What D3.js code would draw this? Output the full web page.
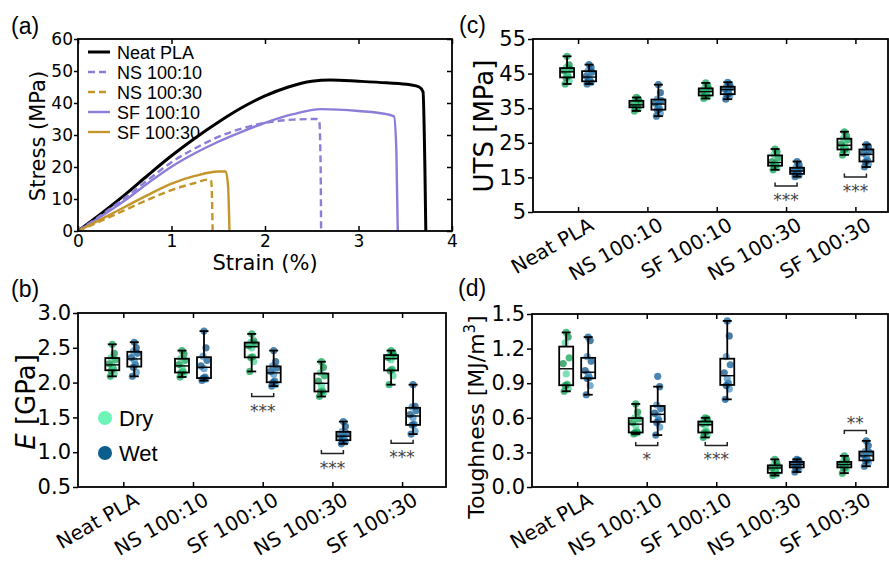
<!DOCTYPE html>
<html>
<head>
<meta charset="utf-8">
<script src="https://cdn.jsdelivr.net/npm/d3@7"></script>
<style>
  body { margin: 0; background: #fff; }
  svg { display: block; }
</style>
</head>
<body>
<script>
// ---------- data ----------
// (a) stress-strain curves
var strainNeat = [0, 0.25, 0.5, 0.75, 1.0, 1.25, 1.5, 1.75, 2.0, 2.25, 2.5, 2.7, 3.0, 3.3, 3.55, 3.65, 3.69, 3.71, 3.72];
var stressNeat = [0, 5.5, 11.3, 17.5, 23.5, 29, 34, 38.5, 42.2, 45, 46.8, 47.2, 46.8, 46.3, 45.7, 45, 43.5, 20, 0];
var strainNS10 = [0, 0.25, 0.5, 0.75, 1.0, 1.25, 1.5, 1.75, 2.0, 2.3, 2.55, 2.58, 2.595, 2.6];
var stressNS10 = [0, 5, 10.3, 16, 21.5, 25.8, 29.4, 32, 33.8, 34.8, 35, 34.5, 20, 0];
var strainNS30 = [0, 0.25, 0.5, 0.75, 1.0, 1.25, 1.4, 1.425, 1.435, 1.44];
var stressNS30 = [0, 3.2, 6.5, 9.8, 12.8, 15, 16.1, 15.5, 8, 0];
var strainSF10 = [0, 0.25, 0.5, 0.75, 1.0, 1.25, 1.5, 1.75, 2.0, 2.3, 2.6, 3.0, 3.3, 3.38, 3.405, 3.42];
var stressSF10 = [0, 4.6, 9.5, 15, 20.1, 24.3, 27.9, 31, 33.8, 36.5, 38.1, 37.5, 36.5, 35.8, 25, 0];
var strainSF30 = [0, 0.25, 0.5, 0.75, 1.0, 1.25, 1.5, 1.58, 1.605, 1.62];
var stressSF30 = [0, 3.7, 7.5, 11.3, 14.8, 17.2, 18.6, 18.6, 14, 0];
var curveNames = ["Neat PLA", "NS 100:10", "NS 100:30", "SF 100:10", "SF 100:30"];

// (b)-(d) box plots
var categories = ["Neat PLA", "NS 100:10", "SF 100:10", "NS 100:30", "SF 100:30"];

var utsDry = [
  [42.0, 42.8, 43.8, 44.2, 45.2, 45.8, 46.3, 46.7, 47.5, 50.0],
  [34.2, 34.8, 35.2, 35.4, 35.8, 36.1, 36.9, 37.2, 37.6, 38.1],
  [37.8, 38.3, 38.6, 38.9, 39.6, 40.0, 40.5, 40.8, 41.5, 42.3],
  [17.2, 17.8, 18.3, 18.6, 19.0, 19.6, 20.6, 21.6, 22.4, 23.2],
  [21.5, 22.3, 23.0, 23.3, 24.0, 24.6, 25.8, 26.3, 27.0, 28.2]
];
var utsWet = [
  [42.0, 42.4, 42.7, 43.0, 43.8, 44.2, 45.4, 45.8, 46.8, 47.6],
  [32.7, 33.5, 34.5, 34.8, 36.0, 36.4, 37.2, 37.6, 39.5, 41.8],
  [37.6, 38.6, 39.0, 39.2, 40.2, 40.6, 40.9, 41.3, 41.9, 42.5],
  [15.2, 15.6, 16.0, 16.1, 16.7, 17.0, 17.4, 17.9, 18.6, 19.6],
  [18.0, 18.8, 19.5, 19.9, 21.3, 22.0, 22.7, 23.2, 23.9, 24.5]
];
var modDry = [
  [2.09, 2.13, 2.17, 2.20, 2.24, 2.27, 2.33, 2.36, 2.42, 2.55],
  [2.08, 2.12, 2.14, 2.16, 2.22, 2.26, 2.32, 2.35, 2.41, 2.46],
  [2.16, 2.30, 2.36, 2.37, 2.50, 2.53, 2.56, 2.58, 2.60, 2.70],
  [1.80, 1.84, 1.87, 1.88, 1.96, 2.02, 2.10, 2.14, 2.22, 2.30],
  [1.97, 2.10, 2.17, 2.19, 2.33, 2.36, 2.38, 2.40, 2.42, 2.46]
];
var modWet = [
  [2.09, 2.15, 2.22, 2.26, 2.32, 2.36, 2.42, 2.45, 2.50, 2.58],
  [2.03, 2.05, 2.06, 2.08, 2.20, 2.24, 2.32, 2.38, 2.50, 2.74],
  [1.95, 1.97, 2.00, 2.02, 2.12, 2.16, 2.21, 2.24, 2.30, 2.46],
  [1.12, 1.15, 1.17, 1.18, 1.22, 1.24, 1.27, 1.30, 1.37, 1.44],
  [1.26, 1.30, 1.39, 1.40, 1.50, 1.54, 1.60, 1.65, 1.66, 1.97]
];
var toughDry = [
  [0.83, 0.85, 0.88, 0.89, 0.98, 1.07, 1.12, 1.25, 1.30, 1.34],
  [0.46, 0.47, 0.47, 0.48, 0.53, 0.56, 0.59, 0.60, 0.65, 0.72],
  [0.43, 0.45, 0.47, 0.48, 0.53, 0.55, 0.56, 0.57, 0.59, 0.60],
  [0.10, 0.11, 0.12, 0.13, 0.16, 0.17, 0.18, 0.19, 0.21, 0.24],
  [0.12, 0.15, 0.17, 0.17, 0.19, 0.20, 0.21, 0.22, 0.24, 0.27]
];
var toughWet = [
  [0.80, 0.88, 0.94, 0.95, 0.98, 1.01, 1.09, 1.13, 1.27, 1.30],
  [0.45, 0.52, 0.56, 0.58, 0.62, 0.64, 0.68, 0.71, 0.87, 0.96],
  [0.76, 0.85, 0.88, 0.90, 0.94, 0.99, 1.06, 1.13, 1.31, 1.44],
  [0.13, 0.15, 0.17, 0.17, 0.19, 0.20, 0.21, 0.22, 0.23, 0.24],
  [0.18, 0.21, 0.23, 0.235, 0.26, 0.28, 0.30, 0.31, 0.36, 0.40]
];

var utsTicks = [5, 15, 25, 35, 45, 55];
var modTicks = [0.5, 1.0, 1.5, 2.0, 2.5, 3.0];
var toughTicks = [0.0, 0.3, 0.6, 0.9, 1.2, 1.5];

// significance marks: category, bracket level, label, side
var sigUts = [{cat: 3, y: 12.5, text: "***", side: "below"}, {cat: 4, y: 15.1, text: "***", side: "below"}];
var sigMod = [{cat: 2, y: 1.80, text: "***", side: "below"}, {cat: 3, y: 0.98, text: "***", side: "below"}, {cat: 4, y: 1.13, text: "***", side: "below"}];
var sigTough = [{cat: 1, y: 0.36, text: "*", side: "below"}, {cat: 2, y: 0.36, text: "***", side: "below"}, {cat: 4, y: 0.49, text: "**", side: "above"}];

// ---------- setup ----------
var W = 889, H = 562;
var svg = d3.select("body").append("svg").attr("width", W).attr("height", H);
var tickFont = "DejaVu Sans";
var purple = "#8c7dd8", gold = "#c4962a";
var dryShades = ["#00a04b", "#46d394", "#008a3e"];
var wetShades = ["#00538f", "#3f8bc0", "#00477d"];

function styleAxis(g, size) {
  g.attr("font-family", tickFont).attr("font-size", size);
  g.select(".domain").remove();
  g.selectAll(".tick line").attr("stroke", "#000").attr("stroke-width", 1.5);
  g.selectAll(".tick text").attr("fill", "#000");
}

function panelLabel(x, y, t) {
  svg.append("text").attr("x", x).attr("y", y)
    .attr("font-family", "Liberation Sans, Arial").attr("font-size", 23).text(t);
}

// ---------- panel (a) ----------
(function () {
  var x0 = 78, x1 = 452, y0 = 39, y1 = 231;
  var x = d3.scaleLinear().domain([0, 4]).range([x0, x1]);
  var y = d3.scaleLinear().domain([0, 60]).range([y1, y0]);
  var g = svg.append("g");

  var series = [
    {name: curveNames[0], sx: strainNeat, sy: stressNeat, color: "#000", dash: null, w: 3},
    {name: curveNames[1], sx: strainNS10, sy: stressNS10, color: purple, dash: "7,4", w: 2.4},
    {name: curveNames[2], sx: strainNS30, sy: stressNS30, color: gold, dash: "7,4", w: 2.4},
    {name: curveNames[3], sx: strainSF10, sy: stressSF10, color: purple, dash: null, w: 2.4},
    {name: curveNames[4], sx: strainSF30, sy: stressSF30, color: gold, dash: null, w: 2.4}
  ];
  var line = d3.line().x(function (d) { return x(d[0]); }).y(function (d) { return y(d[1]); })
    .curve(d3.curveMonotoneX);

  g.selectAll(".curve").data(series).enter().append("path")
    .attr("d", function (s) { return line(d3.zip(s.sx, s.sy)); })
    .attr("fill", "none").attr("stroke", function (s) { return s.color; })
    .attr("stroke-width", function (s) { return s.w; })
    .attr("stroke-dasharray", function (s) { return s.dash; });

  // axes
  styleAxis(g.append("g").attr("transform", "translate(0," + y1 + ")")
    .call(d3.axisBottom(x).ticks(4).tickSize(-5).tickPadding(4).tickFormat(d3.format("d"))), 17);
  styleAxis(g.append("g").attr("transform", "translate(0," + y0 + ")")
    .call(d3.axisTop(x).ticks(4).tickSize(-5).tickFormat("")), 17);
  styleAxis(g.append("g").attr("transform", "translate(" + x0 + ",0)")
    .call(d3.axisLeft(y).ticks(6).tickSize(4).tickPadding(1).tickFormat(d3.format("d"))), 17);
  styleAxis(g.append("g").attr("transform", "translate(" + x1 + ",0)")
    .call(d3.axisRight(y).ticks(6).tickSize(-5).tickFormat("")), 17);
  g.append("rect").attr("x", x0).attr("y", y0).attr("width", x1 - x0).attr("height", y1 - y0)
    .attr("fill", "none").attr("stroke", "#000").attr("stroke-width", 1.8);

  // legend
  var leg = g.selectAll(".leg").data(series).enter().append("g")
    .attr("transform", function (s, i) { return "translate(88," + (52 + i * 20) + ")"; });
  leg.append("line").attr("x1", 0).attr("x2", 22)
    .attr("stroke", function (s) { return s.color; })
    .attr("stroke-width", function (s) { return s.w; })
    .attr("stroke-dasharray", function (s) { return s.dash; });
  leg.append("text").attr("x", 29).attr("y", 6.5)
    .attr("font-family", "Liberation Sans, Arial").attr("font-size", 18)
    .text(function (s) { return s.name; });

  g.append("text").attr("x", 265).attr("y", 270).attr("text-anchor", "middle")
    .attr("font-family", tickFont).attr("font-size", 21).text("Strain (%)");
  g.append("text").attr("transform", "translate(45,136) rotate(-90)").attr("text-anchor", "middle")
    .attr("font-family", tickFont).attr("font-size", 21).text("Stress (MPa)");
  panelLabel(11, 34, "(a)");
})();

// ---------- box plot panels ----------
function boxPanel(o) {
  var g = svg.append("g");
  var x = d3.scaleLinear().domain(o.xdomain).range([o.x0, o.x1]);
  var y = d3.scaleLinear().domain(o.ydomain).range([o.y1, o.y0]);
  var off = 11, bw = 14, cap = 9;
  var jit = [-2, 2, -1, 1, 0, -3, 3, -1, 2, 0];

  var groups = [];
  categories.forEach(function (c, i) {
    [[o.dry[i], -off, dryShades], [o.wet[i], off, wetShades]].forEach(function (p) {
      var v = p[0].slice().sort(d3.ascending);
      var q1 = d3.quantile(v, 0.25), md = d3.quantile(v, 0.5), q3 = d3.quantile(v, 0.75);
      var iqr = q3 - q1;
      var lo = d3.min(v.filter(function (d) { return d >= q1 - 1.5 * iqr; }));
      var hi = d3.max(v.filter(function (d) { return d <= q3 + 1.5 * iqr; }));
      groups.push({cx: x(i) + p[1], vals: p[0], q1: q1, md: md, q3: q3, lo: lo, hi: hi, shades: p[2]});
    });
  });

  // points
  groups.forEach(function (gr) {
    g.selectAll(null).data(gr.vals).enter().append("circle")
      .attr("cx", function (d, k) { return gr.cx + jit[k % jit.length]; })
      .attr("cy", function (d) { return y(d); })
      .attr("r", 3.6)
      .attr("fill", function (d, k) { return gr.shades[k % 3]; })
      .attr("fill-opacity", 0.7);
  });

  // boxes
  var bx = g.selectAll(".bx").data(groups).enter().append("g")
    .attr("stroke", "#000").attr("stroke-width", 1.8).attr("fill", "none");
  bx.append("line").attr("x1", function (d) { return d.cx; }).attr("x2", function (d) { return d.cx; })
    .attr("y1", function (d) { return y(d.q3); }).attr("y2", function (d) { return y(d.hi); });
  bx.append("line").attr("x1", function (d) { return d.cx; }).attr("x2", function (d) { return d.cx; })
    .attr("y1", function (d) { return y(d.q1); }).attr("y2", function (d) { return y(d.lo); });
  bx.append("line").attr("x1", function (d) { return d.cx - cap / 2; }).attr("x2", function (d) { return d.cx + cap / 2; })
    .attr("y1", function (d) { return y(d.hi); }).attr("y2", function (d) { return y(d.hi); });
  bx.append("line").attr("x1", function (d) { return d.cx - cap / 2; }).attr("x2", function (d) { return d.cx + cap / 2; })
    .attr("y1", function (d) { return y(d.lo); }).attr("y2", function (d) { return y(d.lo); });
  bx.append("rect").attr("x", function (d) { return d.cx - bw / 2; }).attr("width", bw)
    .attr("y", function (d) { return y(d.q3); })
    .attr("height", function (d) { return y(d.q1) - y(d.q3); });
  bx.append("line").attr("x1", function (d) { return d.cx - bw / 2; }).attr("x2", function (d) { return d.cx + bw / 2; })
    .attr("y1", function (d) { return y(d.md); }).attr("y2", function (d) { return y(d.md); })
    .attr("stroke-width", 1.4);

  // significance brackets
  o.sig.forEach(function (s) {
    var xa = x(s.cat) - off, xb = x(s.cat) + off, yy = y(s.y);
    var leg = s.side === "below" ? -3.5 : 3.5;
    g.append("path").attr("d", "M" + xa + "," + (yy + leg) + "V" + yy + "H" + xb + "V" + (yy + leg))
      .attr("fill", "none").attr("stroke", "#222").attr("stroke-width", 1.5);
    g.append("text").attr("x", (xa + xb) / 2).attr("y", s.side === "below" ? yy + 20 : yy - 1)
      .attr("text-anchor", "middle").attr("font-family", tickFont).attr("font-size", 17)
      .attr("fill", "#444").text(s.text);
  });

  // axes
  styleAxis(g.append("g").attr("transform", "translate(" + o.x0 + ",0)")
    .call(d3.axisLeft(y).tickValues(o.yticks).tickSize(5).tickPadding(2).tickFormat(o.fmt)), o.tickSize);
  styleAxis(g.append("g").attr("transform", "translate(0," + o.y1 + ")")
    .call(d3.axisBottom(x).tickValues(d3.range(categories.length)).tickSize(-5).tickFormat("")), 20);
  styleAxis(g.append("g").attr("transform", "translate(0," + o.y0 + ")")
    .call(d3.axisTop(x).tickValues(d3.range(categories.length)).tickSize(-5).tickFormat("")), 20);
  g.append("rect").attr("x", o.x0).attr("y", o.y0).attr("width", o.x1 - o.x0).attr("height", o.y1 - o.y0)
    .attr("fill", "none").attr("stroke", "#000").attr("stroke-width", 1.8);

  g.selectAll(".cat").data(categories).enter().append("text")
    .attr("transform", function (c, i) { return "translate(" + (x(i) + 17) + "," + (o.y1 + 17) + ") rotate(-30)"; })
    .attr("text-anchor", "end").attr("font-family", tickFont).attr("font-size", 20)
    .text(function (c) { return c; });

  return g;
}

// (c) UTS
var gc = boxPanel({x0: 533, x1: 888, y0: 39, y1: 212, xdomain: [-0.65, 4.47], ydomain: [5, 55],
  yticks: utsTicks, fmt: d3.format("d"), tickSize: 21, dry: utsDry, wet: utsWet, sig: sigUts});
gc.append("text").attr("transform", "translate(493,126) rotate(-90)").attr("text-anchor", "middle")
  .attr("font-family", tickFont).attr("font-size", 26).text("UTS [MPa]");
panelLabel(459, 33, "(c)");

// (b) Young's modulus
var gb = boxPanel({x0: 78, x1: 446, y0: 313, y1: 487, xdomain: [-0.65, 4.63], ydomain: [0.5, 3.0],
  yticks: modTicks, fmt: d3.format(".1f"), tickSize: 21, dry: modDry, wet: modWet, sig: sigMod});
var lb = gb.append("text").attr("transform", "translate(35,402) rotate(-90)").attr("text-anchor", "middle")
  .attr("font-family", tickFont).attr("font-size", 26);
lb.append("tspan").attr("font-style", "italic").text("E");
lb.append("tspan").text(" [GPa]");
var legB = gb.selectAll(".lg").data([["Dry", "#6cf5b7"], ["Wet", "#0b5e8b"]]).enter().append("g")
  .attr("transform", function (d, i) { return "translate(105," + (418 + i * 35) + ")"; });
legB.append("circle").attr("r", 7).attr("fill", function (d) { return d[1]; });
legB.append("text").attr("x", 14).attr("y", 8).attr("font-family", "Liberation Sans, Arial")
  .attr("font-size", 22).text(function (d) { return d[0]; });
panelLabel(11, 297, "(b)");

// (d) Toughness
var gd = boxPanel({x0: 532, x1: 888, y0: 314, y1: 487, xdomain: [-0.65, 4.47], ydomain: [0, 1.5],
  yticks: toughTicks, fmt: d3.format(".1f"), tickSize: 21, dry: toughDry, wet: toughWet, sig: sigTough});
var ld = gd.append("text").attr("transform", "translate(484,417) rotate(-90)").attr("text-anchor", "middle")
  .attr("font-family", tickFont).attr("font-size", 22);
ld.append("tspan").text("Toughness [MJ/m");
ld.append("tspan").attr("baseline-shift", "super").attr("font-size", 15).text("3");
ld.append("tspan").text("]");
panelLabel(458, 296, "(d)");
</script>
</body>
</html>
